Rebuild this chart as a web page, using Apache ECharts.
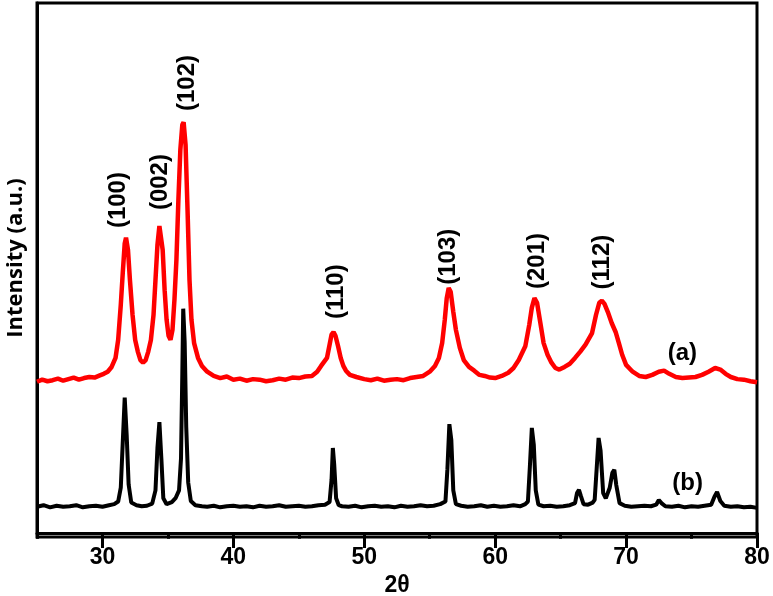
<!DOCTYPE html>
<html>
<head>
<meta charset="utf-8">
<script src="https://cdn.jsdelivr.net/npm/echarts@6/dist/echarts.min.js"></script>
<style>
html, body {margin: 0; padding: 0; background: #fff;}
#main {width: 773px; height: 596px;}
</style>
</head>
<body>
<div id="main"></div>
<script>
// sample (a): [2theta, intensity]
const seriesA = [
	[25.0,28.5],[25.4,28.9],[25.8,28.6],[26.2,28.8],[26.6,29.1],[27.0,28.7],[27.4,29.0],[27.8,29.3],[28.2,28.9],[28.6,29.2],
	[29.0,29.4],[29.4,29.3],[29.8,29.7],[30.1,30.0],[30.4,30.4],[30.7,31.3],[31.0,33.0],[31.2,36.4],[31.4,43.0],[31.55,49.0],
	[31.7,54.6],[31.8,55.7],[31.95,53.4],[32.1,47.7],[32.3,41.1],[32.5,36.4],[32.7,34.2],[32.9,32.6],[33.1,32.1],[33.3,32.6],
	[33.5,34.2],[33.7,36.4],[33.9,41.1],[34.05,47.7],[34.2,54.3],[34.35,57.9],[34.45,58.1],[34.6,53.4],[34.75,45.8],[34.9,40.2],
	[35.05,37.2],[35.2,36.4],[35.35,38.3],[35.5,44.0],[35.65,51.5],[35.8,62.8],[35.95,72.3],[36.1,77.0],[36.2,77.5],[36.35,73.2],
	[36.5,60.9],[36.65,47.7],[36.8,40.2],[37.0,35.8],[37.3,33.0],[37.6,31.5],[38.0,30.4],[38.5,29.6],[39.0,29.2],[39.5,29.5],
	[40.0,28.9],[40.5,29.1],[41.0,28.7],[41.5,29.0],[42.0,28.9],[42.5,28.6],[43.0,28.8],[43.5,29.1],[44.0,28.9],[44.5,29.3],
	[45.0,29.2],[45.5,29.5],[46.0,29.6],[46.4,30.4],[46.7,31.5],[47.15,33.0],[47.35,35.5],[47.5,37.4],[47.65,37.9],[47.8,37.2],
	[48.0,35.2],[48.2,33.0],[48.4,31.5],[48.6,30.6],[48.9,29.8],[49.4,29.4],[50.0,29.0],[50.5,28.8],[51.0,29.1],[51.5,28.7],
	[52.0,28.9],[52.5,29.0],[53.0,28.8],[53.5,29.2],[54.0,29.4],[54.5,29.6],[55.0,30.4],[55.4,31.5],[55.7,33.0],[55.95,35.8],
	[56.15,40.2],[56.3,44.3],[56.45,46.2],[56.6,45.5],[56.8,41.7],[57.0,38.3],[57.3,34.9],[57.6,32.6],[58.0,31.3],[58.4,30.6],
	[58.8,29.8],[59.2,29.6],[59.6,29.3],[60.0,29.2],[60.5,29.6],[61.0,30.2],[61.4,31.1],[61.8,32.6],[62.3,35.2],[62.6,39.2],
	[62.8,42.5],[63.0,44.3],[63.2,43.4],[63.45,39.6],[63.7,35.8],[64.0,33.6],[64.3,32.1],[64.6,31.1],[64.9,30.8],[65.3,31.3],
	[65.7,31.9],[66.1,33.0],[66.5,34.2],[66.9,35.5],[67.4,37.7],[67.7,41.1],[67.95,43.4],[68.15,43.8],[68.35,43.2],[68.6,41.7],
	[68.9,39.6],[69.2,37.9],[69.45,35.8],[69.7,33.6],[70.0,31.7],[70.5,30.4],[71.0,29.6],[71.5,29.4],[72.0,29.8],[72.5,30.4],
	[72.9,30.6],[73.3,30.0],[73.8,29.4],[74.3,29.2],[74.8,29.3],[75.3,29.4],[75.8,29.8],[76.3,30.4],[76.8,31.1],[77.2,30.8],
	[77.6,30.0],[78.0,29.4],[78.5,29.0],[79.0,28.9],[79.5,28.6],[80.0,28.4]
];

// sample (b): [2theta, intensity]
const seriesB = [
	[25.0,4.9],[25.5,5.2],[26.0,4.8],[26.5,5.1],[27.0,4.9],[27.5,5.0],[28.0,5.2],[28.5,4.8],[29.0,5.0],[29.5,5.1],
	[30.0,4.9],[30.5,5.2],[30.9,5.4],[31.2,5.9],[31.4,8.5],[31.55,17.0],[31.7,25.5],[31.85,18.5],[32.0,9.1],[32.2,5.7],
	[32.6,5.2],[33.0,5.0],[33.4,5.1],[33.8,5.5],[34.05,8.0],[34.2,16.0],[34.35,20.9],[34.5,14.0],[34.65,6.5],[34.9,5.4],
	[35.3,5.8],[35.6,6.6],[35.85,8.0],[36.0,14.0],[36.1,30.0],[36.17,42.3],[36.28,36.0],[36.4,20.0],[36.55,9.5],[36.75,6.0],
	[37.1,5.2],[37.6,5.0],[38.0,4.9],[38.5,5.1],[39.0,4.8],[39.5,5.0],[40.0,5.1],[40.5,4.9],[41.0,5.0],[41.5,4.8],
	[42.0,5.1],[42.5,4.9],[43.0,5.0],[43.5,5.2],[44.0,4.9],[44.5,5.0],[45.0,5.1],[45.5,4.9],[46.0,5.0],[46.5,5.2],
	[47.0,5.3],[47.35,5.8],[47.5,10.0],[47.6,16.0],[47.7,13.0],[47.85,6.5],[48.05,5.2],[48.3,5.0],[48.8,4.9],[49.3,5.1],
	[49.8,4.8],[50.3,5.0],[50.8,5.1],[51.3,4.9],[51.8,5.0],[52.3,4.8],[52.8,5.1],[53.3,4.9],[53.8,5.0],[54.3,5.2],
	[54.8,5.0],[55.3,5.1],[55.8,5.4],[56.2,5.9],[56.35,12.0],[56.5,20.5],[56.65,17.5],[56.8,8.0],[57.0,5.4],[57.4,5.1],
	[57.9,4.9],[58.4,5.0],[58.9,5.2],[59.4,4.9],[59.9,5.1],[60.4,4.9],[60.9,5.0],[61.4,5.2],[61.9,5.0],[62.3,5.4],
	[62.5,5.9],[62.65,12.5],[62.8,19.8],[62.95,16.6],[63.1,8.0],[63.3,5.3],[63.7,5.0],[64.2,5.1],[64.7,4.9],[65.2,5.0],
	[65.7,5.2],[66.1,5.6],[66.25,7.5],[66.4,8.1],[66.55,6.9],[66.75,5.4],[67.1,5.3],[67.45,5.7],[67.6,6.2],[67.75,12.0],
	[67.9,17.9],[68.05,15.5],[68.25,7.5],[68.45,6.5],[68.75,8.5],[68.95,11.3],[69.1,11.9],[69.25,9.0],[69.5,5.6],[69.9,5.1],
	[70.4,4.9],[70.9,5.0],[71.4,5.1],[71.9,5.0],[72.3,5.3],[72.5,6.2],[72.7,5.6],[73.0,5.0],[73.5,4.9],[74.0,5.1],
	[74.5,4.8],[75.0,5.0],[75.5,4.9],[76.0,5.1],[76.5,5.3],[76.75,6.8],[76.95,7.7],[77.2,6.0],[77.5,5.1],[78.0,4.9],
	[78.5,5.0],[79.0,4.8],[79.5,4.9],[80.0,4.7]
];

// reflection labels
const hklNames = ["(100)", "(002)", "(102)", "(110)", "(103)", "(201)", "(112)"];
const hklAngles = [31.2, 34.4, 36.5, 47.85, 56.4, 63.2, 68.2];
const hklHeights = [62.8, 66.2, 84.9, 45.5, 52.1, 51.3, 51.1];

const sampleNames = ["(a)", "(b)"];
const sampleAngles = [74.3, 74.7];
const sampleHeights = [33.8, 9.4];

const xMajor = [30, 40, 50, 60, 70, 80];

const hklData = [];
for(let i = 0; i < hklNames.length; i++){
	hklData.push({name: hklNames[i], value: [hklAngles[i], hklHeights[i]]});
}
const sampleData = [];
for(let i = 0; i < sampleNames.length; i++){
	sampleData.push({name: sampleNames[i], value: [sampleAngles[i], sampleHeights[i]]});
}

const boldFont = "'Liberation Sans', Arial, sans-serif";

var mychart = echarts.init(document.getElementById("main"), null, {renderer: "canvas"});

const option = {
	animation: false,
	backgroundColor: "#fff",
	grid: {left: 37, right: 16, top: 3, bottom: 59, show: true, borderColor: "#000", borderWidth: 3,
		containLabel: false, outerBoundsMode: "none"},
	xAxis: [{
		type: "value", min: 25, max: 80, interval: 5,
		axisLine: {show: true, lineStyle: {color: "#000", width: 3}},
		axisTick: {show: true, length: 6, lineStyle: {color: "#000", width: 3}},
		axisLabel: {
			show: true, margin: 9, color: "#000", fontSize: 23, fontWeight: "bold", fontFamily: boldFont,
			formatter: function(v){ return v % 10 == 0 ? String(v) : ""; }
		},
		splitLine: {show: false},
		name: "2θ", nameLocation: "middle", nameGap: 33,
		nameTextStyle: {color: "#000", fontSize: 23, fontWeight: "bold", fontFamily: boldFont}
	}, {
		type: "value", min: 25, max: 80, position: "bottom",
		axisLine: {show: false},
		axisTick: {show: true, length: 11, customValues: xMajor, lineStyle: {color: "#000", width: 3}},
		axisLabel: {show: false},
		splitLine: {show: false}
	}],
	yAxis: {
		type: "value", min: -0.8, max: 100,
		axisLine: {show: true, lineStyle: {color: "#000", width: 3}},
		axisTick: {show: false},
		axisLabel: {show: false},
		splitLine: {show: false},
		name: "Intensity (a.u.)", nameLocation: "middle", nameGap: 10,
		nameTextStyle: {color: "#000", fontSize: 22, fontWeight: "bold", fontFamily: "'Open Sans', sans-serif",
			padding: [0, 0, 0, 24]}
	},
	series: [
		{type: "line", data: seriesA, showSymbol: false, lineStyle: {color: "#ff0000", width: 4.5}, z: 3},
		{type: "line", data: seriesB, showSymbol: false, lineStyle: {color: "#000", width: 4}, z: 3},
		{type: "scatter", data: hklData, symbolSize: 0, z: 5, itemStyle: {opacity: 1},
			label: {show: true, position: "inside", rotate: 90, formatter: function(p){ return p.name; },
				color: "#000", opacity: 1, textBorderWidth: 0, fontSize: 24, fontWeight: "bold", fontFamily: boldFont}},
		{type: "scatter", data: sampleData, symbolSize: 0, z: 5, itemStyle: {opacity: 1},
			label: {show: true, position: "inside", formatter: function(p){ return p.name; },
				color: "#000", opacity: 1, textBorderWidth: 0, fontSize: 24, fontWeight: "bold", fontFamily: boldFont}}
	]
};
mychart.setOption(option);
</script>
</body>
</html>
